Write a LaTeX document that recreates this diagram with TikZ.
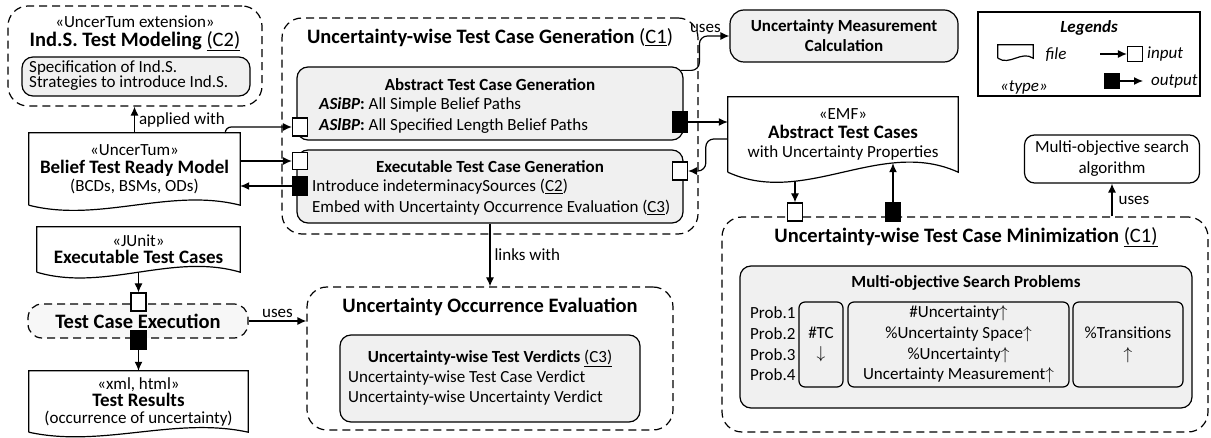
\documentclass[tikz,border=0pt]{standalone}
\usepackage{fontspec}
\setmainfont{Carlito}
\usetikzlibrary{arrows.meta, positioning, calc}

\newcommand{\fsbody}{\fontsize{17}{21}\selectfont}
\newcommand{\fshead}{\fontsize{20.5}{24}\selectfont\bfseries}
\newcommand{\fsdoc}{\fontsize{19}{21}\selectfont\bfseries}

% outline of a file: flat top, wavy bottom edge
\newcommand{\filewave}[2][30]{%
  \draw[line width=1.2pt] (#2.south west) -- (#2.north west) -- (#2.north east) -- (#2.south east)
    .. controls ($(#2.south east)!0.333!(#2.south west)+(0,-#1)$)
    and ($(#2.south east)!0.667!(#2.south west)+(0,#1)$) .. (#2.south west);}

\tikzstyle{every node}=[font=\fsbody, inner sep=0pt]
\tikzstyle{group}=[draw, dash pattern=on 8pt off 5pt, rounded corners=20pt, line width=1.2pt]
\tikzstyle{panel}=[draw, fill=black!6, rounded corners=11pt, line width=1.2pt]
\tikzstyle{doc}=[minimum width=210pt, align=center, font=\fontsize{17}{18}\selectfont]
\tikzstyle{inport}=[draw, fill=white, minimum width=15pt, minimum height=18pt, line width=1.2pt]
\tikzstyle{outport}=[inport, fill=black]
\tikzstyle{head}=[font=\fshead]
\tikzstyle{ptitle}=[font=\fsbody\bfseries]
\tikzstyle{lines}=[align=left, font=\fontsize{17}{21}\selectfont]
\tikzstyle{goal}=[panel, rounded corners=6pt, minimum height=85pt, align=center, font=\fontsize{17}{20.7}\selectfont]
\tikzstyle{flow}=[->, line width=1.2pt]

\begin{document}
\begin{tikzpicture}[x=1pt, y=-1pt, >={Latex[length=9pt, width=8pt]}]
\useasboundingbox (0,0) rectangle (1211,438);

% indeterminacy sources
\node[group, minimum width=254pt, minimum height=100pt] (indg) at (135,56) {};
\node (indg-s) at (135,22) {«UncerTum extension»};
\node[head] (indg-t) at (135,41) {Ind.S. Test Modeling \mdseries\underline{(C2)}};
\node[panel, minimum width=228pt, minimum height=39pt] (indp) at (136,76.5) {};
\node[lines, anchor=west, font=\fontsize{17}{15}\selectfont] (indp-l) at (29,76) {Specification of Ind.S.\\Strategies to introduce Ind.S.};

% files on the left
\node[doc, minimum width=211pt, minimum height=72pt] (btrm) at (134.5,169) {«UncerTum»\\{\fsdoc Belief Test Ready Model}\\(BCDs, BSMs, ODs)};
\filewave[18]{btrm}
\node[doc, minimum width=203pt, minimum height=45pt, font=\fontsize{17}{17}\selectfont] (etc) at (138.5,249.5) {«JUnit»\\{\fsdoc Executable Test Cases}};
\filewave[20]{etc}
\node[doc, minimum width=219pt, minimum height=61pt, font=\fontsize{17}{17}\selectfont] (trs) at (138.5,401.5) {«xml, html»\\{\fsdoc Test Results}\\(occurrence of uncertainty)};
\filewave[16]{trs}

% test case generation
\node[group, minimum width=416pt, minimum height=216pt] (tcg) at (490,126) {};
\node[head] (tcg-t) at (490,38) {Uncertainty-wise Test Case Generation \mdseries(\underline{C1})};
\node[panel, minimum width=386pt, minimum height=73pt] (atg) at (490,103.5) {};
\node[ptitle] (atg-t) at (490,85) {Abstract Test Case Generation};
\node[lines, anchor=west] (atg-l) at (319,115.5) {\textbf{\textit{ASiBP}:} All Simple Belief Paths\\\textbf{\textit{ASlBP}:} All Specified Length Belief Paths};
\node[panel, minimum width=386pt, minimum height=73pt] (etg) at (490,186.5) {};
\node[ptitle] (etg-t) at (490,167) {Executable Test Case Generation};
\node[lines, anchor=west] (etg-l) at (312,197.5) {Introduce indeterminacySources (\underline{C2})\\Embed with Uncertainty Occurrence Evaluation (\underline{C3})};
\node[inport] (atg-in) at (300,127) {};
\node[outport, minimum height=20pt] (atg-out) at (680,122) {};
\node[inport, minimum height=17pt] (etg-in) at (300,161) {};
\node[outport] (etg-out) at (300,186) {};
\node[inport] (etg-back) at (680,171) {};

\node[panel, minimum width=228pt, minimum height=52pt, rounded corners=14pt, align=center, font=\fontsize{17}{20}\selectfont\bfseries] (umc) at (844,36) {Uncertainty Measurement\\Calculation};

\node[doc, minimum width=230pt, minimum height=75pt, font=\fontsize{17}{19}\selectfont] (atc) at (843,134.5) {«EMF»\\{\fsdoc Abstract Test Cases}\\with Uncertainty Properties};
\filewave[35]{atc}

% legend
\node[draw, line width=1.2pt, minimum width=222pt, minimum height=84pt] (lgd) at (1089,54) {};
\node[font=\fsbody\bfseries\itshape] (lgd-t) at (1089,28) {Legends};
\node[minimum width=35pt, minimum height=13pt] (lgd-f) at (1015.5,51.5) {};
\filewave[8]{lgd-f}
\node[font=\fsbody\itshape] (lgd-fl) at (1056,55) {file};
\node[font=\fsbody\itshape] (lgd-ty) at (1024,87) {«type»};
\coordinate (lgd-a) at (1100,54);
\node[inport, minimum height=15pt] (lgd-in) at (1135,54) {};
\node[font=\fsbody\itshape, anchor=west] (lgd-il) at (1147,54) {input};
\node[outport, minimum height=14pt] (lgd-out) at (1112,81) {};
\coordinate (lgd-b) at (1143,81);
\node[font=\fsbody\itshape, anchor=west] (lgd-ol) at (1151,81) {output};

\node[draw, line width=1.2pt, rounded corners=10pt, minimum width=175pt, minimum height=48pt, align=center] (msa) at (1112,159) {Multi-objective search\\algorithm};

% test case minimization
\node[group, minimum width=486pt, minimum height=215pt] (mtg) at (965,324.5) {};
\node[head] (mtg-t) at (966,237) {Uncertainty-wise Test Case Minimization \mdseries\underline{(C1)}};
\node[panel, minimum width=452pt, minimum height=142pt] (msp) at (966,337) {};
\node[ptitle] (msp-t) at (966,283) {Multi-objective Search Problems};
\node[lines, anchor=west, font=\fontsize{17}{20.7}\selectfont] (msp-p) at (750,344) {Prob.1\\Prob.2\\Prob.3\\Prob.4};
\node[goal, minimum width=44pt] (obj-tc) at (821,344.5) {\#TC\\$\downarrow$};
\node[goal, minimum width=221pt] (obj-u) at (958.5,344.5) {\#Uncertainty$\uparrow$\\\%Uncertainty Space$\uparrow$\\\%Uncertainty$\uparrow$\\Uncertainty Measurement$\uparrow$};
\node[goal, minimum width=110pt] (obj-tr) at (1128,344.5) {\%Transitions\\$\uparrow$};
\node[inport] (mtg-in) at (795,212) {};
\node[outport] (mtg-out) at (893,212) {};

% occurrence evaluation
\node[group, minimum width=366pt, minimum height=143pt] (uoe) at (490,358.5) {};
\node[head] (uoe-t) at (490,307) {Uncertainty Occurrence Evaluation};
\node[panel, minimum width=300pt, minimum height=87pt] (utv) at (490,378.5) {};
\node[ptitle] (utv-t) at (490,358) {Uncertainty-wise Test Verdicts \mdseries\underline{(C3)}};
\node[lines, anchor=west, font=\fontsize{17}{20}\selectfont] (utv-l) at (348,388) {Uncertainty-wise Test Case Verdict\\Uncertainty-wise Uncertainty Verdict};

% test execution
\node[group, fill=black!3, rounded corners=14pt, minimum width=220pt, minimum height=34pt, font=\fshead] (tce) at (138,321) {Test Case Execution};
\node[inport] (tce-in) at (138.5,302) {};
\node[outport] (tce-out) at (138.5,340) {};

% connectors
\draw[flow] (btrm.north) -- node[right=4pt] {applied with} (btrm.north |- indg.south);
\draw[flow, rounded corners=6pt] ($(btrm.north east)+(-15,0)$) |- (atg-in.west);
\draw[flow] (btrm.east |- etg-in) -- (etg-in.west);
\draw[flow] (etg-out.west) -- (btrm.east |- etg-out);
\draw[flow] (atg-out.east) -- (atg-out -| atc.west);
\draw[flow, rounded corners=8pt] ($(atc.west)+(0,4.5)$) -- ++(-22,0) |- (etg-back.east);
\draw[flow, rounded corners=8pt] ($(atg.north east)+(-3,4)$) -| ($(umc.west)+(-30,0)$) -- node[above=3pt, pos=0.2] {uses} (umc.west);
\draw[flow] (etg.south) -- node[right=4pt] {links with} (uoe.north);
\draw[flow] (tce.east) -- node[above=3pt] {uses} (tce.east -| uoe.west);
\draw[flow] (mtg.north -| msa.south) -- node[right=6pt] {uses} (msa.south);
\draw[flow] ($(atc.south)+(-48,9)$) -- (mtg-in.north);
\draw[flow] (mtg-out.north) -- ($(atc.south)+(50,-9)$);
\draw[flow] (etc.south) -- (tce-in.north);
\draw[flow] (tce-out.south) -- (trs.north);
\draw[flow] (lgd-a) -- (lgd-in.west);
\draw[flow] (lgd-out.east) -- (lgd-b);
\end{tikzpicture}
\end{document}
